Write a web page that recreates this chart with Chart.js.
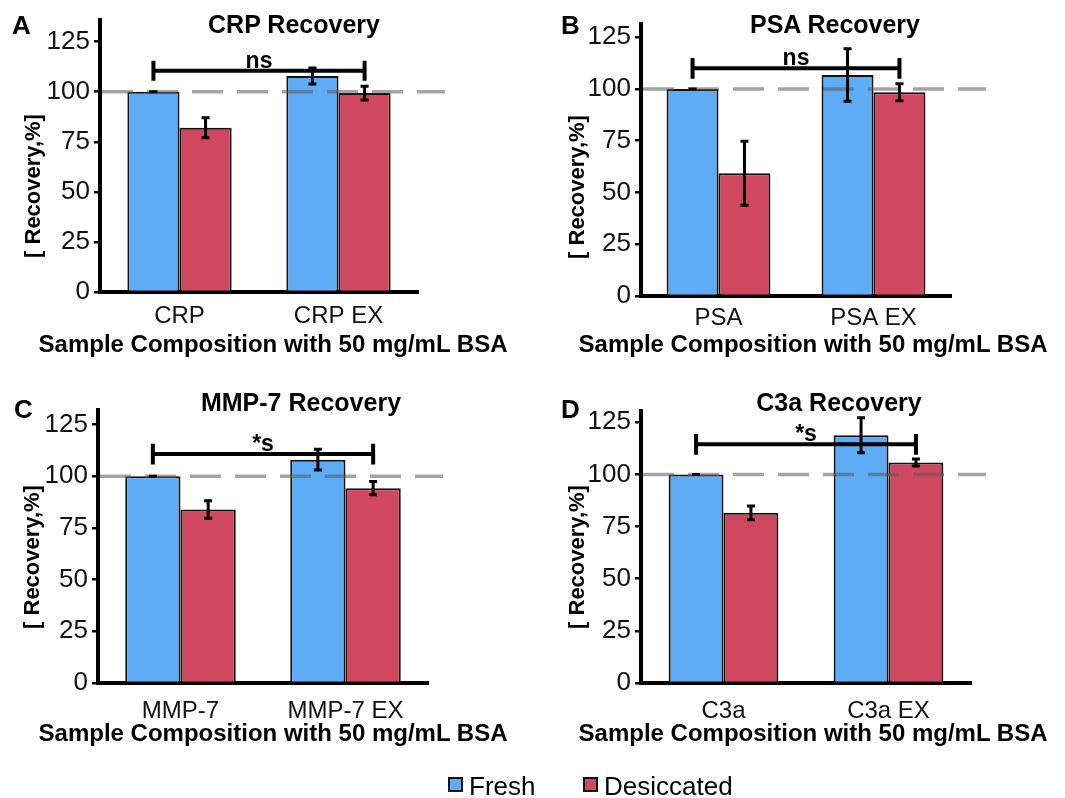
<!DOCTYPE html>
<html>
<head>
<meta charset="utf-8">
<script src="https://cdn.jsdelivr.net/npm/chart.js@4.4.1/dist/chart.umd.min.js"></script>
<style>
  html, body { margin: 0; padding: 0; background: #fff; }
  #fig { position: relative; width: 1065px; height: 798px; overflow: hidden; font-family: 'Liberation Sans', Arial, sans-serif; color: #000; }
  .panel { position: absolute; }
  .txt { position: absolute; white-space: nowrap; line-height: 1; }
  .sw { position: absolute; width: 11px; height: 11px; border: 2px solid #111; }
</style>
</head>
<body>
<div id="fig">
  <div class="panel" style="left:0;top:0;width:530px;height:390px"><canvas id="chartA"></canvas></div>
  <div class="panel" style="left:530px;top:0;width:535px;height:390px"><canvas id="chartB"></canvas></div>
  <div class="panel" style="left:0;top:390px;width:530px;height:390px"><canvas id="chartC"></canvas></div>
  <div class="panel" style="left:530px;top:390px;width:535px;height:390px"><canvas id="chartD"></canvas></div>
</div>
<script>
const yTicks = [0, 25, 50, 75, 100, 125]
const refValue = 100
const seriesNames = ['Fresh', 'Desiccated']

// A - CRP
const crpLabels = ['CRP', 'CRP EX']
const crpFresh = [100, 107.8]
const crpFreshErr = [0, 4]
const crpDesiccated = [82, 99.3]
const crpDesiccatedErr = [5, 3.4]

// B - PSA
const psaLabels = ['PSA', 'PSA EX']
const psaFresh = [100, 106.8]
const psaFreshErr = [0, 12.7]
const psaDesiccated = [59.3, 98.4]
const psaDesiccatedErr = [15.4, 4.1]

// C - MMP-7
const mmpLabels = ['MMP-7', 'MMP-7 EX']
const mmpFresh = [100, 108]
const mmpFreshErr = [0, 5]
const mmpDesiccated = [83.9, 94.2]
const mmpDesiccatedErr = [4.2, 3.2]

// D - C3a
const c3aLabels = ['C3a', 'C3a EX']
const c3aFresh = [100, 118.8]
const c3aFreshErr = [0, 8.4]
const c3aDesiccated = [81.6, 105.7]
const c3aDesiccatedErr = [3.3, 1.7]

// significance brackets (value, half height of end ticks, label)
const crpBracket = [110.5, 5, 'ns']
const psaBracket = [110, 5, 'ns']
const mmpBracket = [110.7, 5, '*s']
const c3aBracket = [114.4, 5, '*s']

const blue = '#5eacf5'
const red = '#d04760'
const fontFamily = "'Liberation Sans', Arial, sans-serif"

Chart.defaults.font.family = fontFamily

// dashed 100% line, error bars and the bracket
const extras = {
    id: 'extras',
    afterDatasetsDraw(chart, args, opts) {
        const ctx = chart.ctx
        const y = chart.scales.y
        const area = chart.chartArea
        ctx.save()

        const ry = y.getPixelForValue(refValue)
        ctx.strokeStyle = 'rgba(90,90,90,0.55)'
        ctx.lineWidth = 3.5
        ctx.setLineDash([31, 14])
        ctx.beginPath()
        ctx.moveTo(area.left + 2, ry)
        ctx.lineTo(area.left + opts.refLength, ry)
        ctx.stroke()
        ctx.setLineDash([])

        ctx.strokeStyle = '#000'
        ctx.lineWidth = 3
        chart.data.datasets.forEach(function (ds, i) {
            chart.getDatasetMeta(i).data.forEach(function (bar, j) {
                const v = ds.data[j]
                const e = ds.errors[j]
                const top = y.getPixelForValue(v + e)
                const bot = y.getPixelForValue(v - e)
                ctx.beginPath()
                ctx.moveTo(bar.x, top); ctx.lineTo(bar.x, bot)
                ctx.moveTo(bar.x - 4, top); ctx.lineTo(bar.x + 4, top)
                ctx.moveTo(bar.x - 4, bot); ctx.lineTo(bar.x + 4, bot)
                ctx.stroke()
            })
        })

        const b = opts.bracket
        const x1 = chart.getDatasetMeta(0).data[0].x
        const x2 = chart.getDatasetMeta(1).data[1].x
        const by = y.getPixelForValue(b[0])
        const bt = y.getPixelForValue(b[0] + b[1])
        const bb = y.getPixelForValue(b[0] - b[1])
        ctx.lineWidth = 4
        ctx.beginPath()
        ctx.moveTo(x1, by); ctx.lineTo(x2, by)
        ctx.moveTo(x1, bt); ctx.lineTo(x1, bb)
        ctx.moveTo(x2, bt); ctx.lineTo(x2, bb)
        ctx.stroke()

        ctx.font = 'bold 23px ' + fontFamily
        ctx.fillStyle = '#000'
        ctx.textAlign = 'center'
        ctx.textBaseline = 'alphabetic'
        ctx.fillText(b[2], (x1 + x2) / 2, by - 3)
        ctx.restore()
    }
}

function makeChart(id, labels, fresh, freshErr, des, desErr, bracket, o) {
    return new Chart(document.getElementById(id), {
        type: 'bar',
        data: {
            labels: labels,
            datasets: [
                { label: seriesNames[0], data: fresh, errors: freshErr, backgroundColor: blue, borderColor: '#111', borderWidth: 2 },
                { label: seriesNames[1], data: des, errors: desErr, backgroundColor: red, borderColor: '#111', borderWidth: 2 }
            ]
        },
        options: {
            responsive: true,
            maintainAspectRatio: false,
            animation: false,
            layout: { padding: { left: 0, right: o.right, top: o.top, bottom: 0 } },
            datasets: { bar: { categoryPercentage: o.cat, barPercentage: 1 } },
            plugins: {
                legend: { display: false },
                tooltip: { enabled: false },
                extras: { bracket: bracket, refLength: 345 }
            },
            scales: {
                x: {
                    offset: true,
                    z: 1,
                    grid: { display: false, drawTicks: false },
                    border: { display: true, color: '#000', width: 4 },
                    ticks: { color: '#111', font: { size: 24 }, padding: o.xPad },
                    afterFit: function (s) { s.height = o.xHeight }
                },
                y: {
                    min: 0,
                    max: o.yMax,
                    grid: { drawOnChartArea: false, drawTicks: true, tickLength: 6, color: '#000', lineWidth: 2.5 },
                    border: { display: true, color: '#000', width: 4 },
                    ticks: { color: '#111', font: { size: 26 }, padding: 4 },
                    afterBuildTicks: function (s) { s.ticks = yTicks.map(function (v) { return { value: v } }) },
                    afterFit: function (s) { s.width = o.yWidth }
                }
            }
        },
        plugins: [extras]
    })
}

makeChart('chartA', crpLabels, crpFresh, crpFreshErr, crpDesiccated, crpDesiccatedErr, crpBracket,
    { yWidth: 100, right: 112, top: 17, xHeight: 98, yMax: 136, cat: 0.656, xPad: 10 })
makeChart('chartB', psaLabels, psaFresh, psaFreshErr, psaDesiccated, psaDesiccatedErr, psaBracket,
    { yWidth: 111, right: 114, top: 24, xHeight: 94, yMax: 131.4, cat: 0.67, xPad: 8 })
makeChart('chartC', mmpLabels, mmpFresh, mmpFreshErr, mmpDesiccated, mmpDesiccatedErr, mmpBracket,
    { yWidth: 98, right: 102, top: 17, xHeight: 97, yMax: 132.2, cat: 0.67, xPad: 14 })
makeChart('chartD', c3aLabels, c3aFresh, c3aFreshErr, c3aDesiccated, c3aDesiccatedErr, c3aBracket,
    { yWidth: 111, right: 94, top: 21, xHeight: 97, yMax: 130.4, cat: 0.665, xPad: 14 })

// text around the plots
const fig = document.getElementById('fig')
function addText(text, x, baseline, size, bold, align) {
    const d = document.createElement('div')
    d.className = 'txt'
    d.textContent = text
    d.style.fontSize = size + 'px'
    d.style.fontWeight = bold ? 'bold' : 'normal'
    d.style.left = x + 'px'
    d.style.top = (baseline - 0.8465 * size) + 'px'
    if (align === 'center') d.style.transform = 'translateX(-50%)'
    fig.appendChild(d)
}
function addYTitle(text, cx, cy) {
    const d = document.createElement('div')
    d.className = 'txt'
    d.textContent = text
    d.style.fontSize = '22px'
    d.style.fontWeight = 'bold'
    d.style.left = cx + 'px'
    d.style.top = cy + 'px'
    d.style.transform = 'translate(-50%,-50%) rotate(-90deg)'
    fig.appendChild(d)
}

const xTitle = 'Sample Composition with 50 mg/mL BSA'
const yTitle = '[ Recovery,%]'

addText('A', 12, 34, 26, true)
addText('CRP Recovery', 294, 33, 25, true, 'center')
addText(xTitle, 273, 352, 24, true, 'center')
addYTitle(yTitle, 33, 186)

addText('B', 561, 34, 26, true)
addText('PSA Recovery', 835, 33, 25, true, 'center')
addText(xTitle, 813, 352, 24, true, 'center')
addYTitle(yTitle, 577, 187)

addText('C', 14, 418, 26, true)
addText('MMP-7 Recovery', 301, 411, 25, true, 'center')
addText(xTitle, 273, 741, 24, true, 'center')
addYTitle(yTitle, 32, 557)

addText('D', 561, 418, 26, true)
addText('C3a Recovery', 839, 411, 25, true, 'center')
addText(xTitle, 813, 741, 24, true, 'center')
addYTitle(yTitle, 577, 557)

// shared legend
function addSwatch(x, y, color) {
    const s = document.createElement('div')
    s.className = 'sw'
    s.style.left = x + 'px'
    s.style.top = y + 'px'
    s.style.background = color
    fig.appendChild(s)
}
addSwatch(448, 777, blue)
addText(seriesNames[0], 469, 795, 26, false)
addSwatch(583, 777, red)
addText(seriesNames[1], 604, 795, 26, false)
</script>
</body>
</html>
